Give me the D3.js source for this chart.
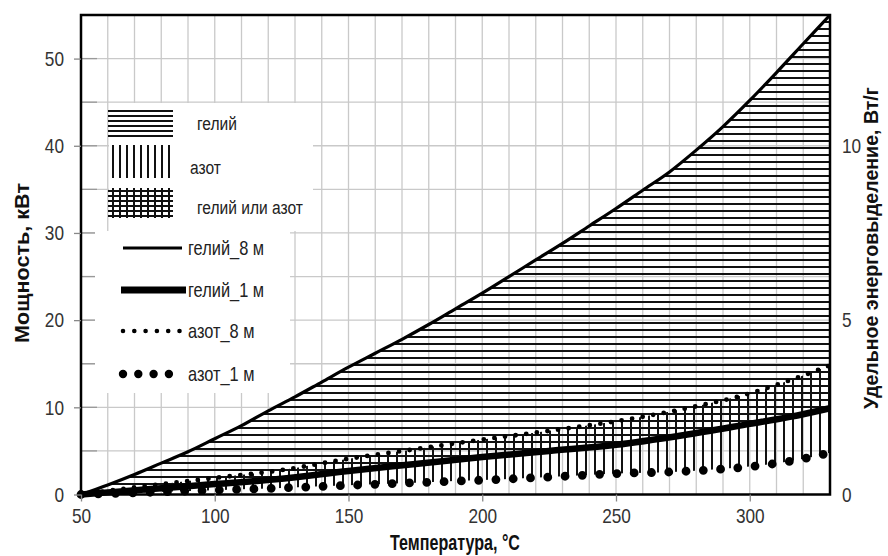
<!DOCTYPE html>
<html><head><meta charset="utf-8">
<script src="https://cdn.jsdelivr.net/npm/d3@7/dist/d3.min.js"></script>
<style>
html,body{margin:0;padding:0;background:#fff;}
svg{display:block;font-family:"Liberation Sans",Arial,sans-serif;}
</style></head>
<body><svg id="c" width="888" height="556"></svg>
<script>
// ---- data ----
const heliumT = [50,60,70,80,90,100,110,120,130,140,150,160,170,180,190,200,210,220,230,240,250,260,270,280,290,300,310,320,330];
const helium8m = [0,1.1,2.3,3.6,4.9,6.4,7.9,9.6,11.2,12.9,14.6,16.2,17.8,19.5,21.3,23.1,25.0,26.9,28.8,30.8,32.8,34.9,37.0,39.5,42.2,45.2,48.4,51.7,55.0];
const seriesT = [50,75,100,125,150,175,200,225,250,275,300,315,330];
const helium1m = [0,0.6,1.2,1.8,2.7,3.5,4.3,5.0,5.7,6.8,8.1,8.9,9.9];
const nitrogen8m = [0,1.0,1.9,2.8,4.1,5.2,6.3,7.3,8.4,9.8,11.6,13.1,14.8];
const nitrogen1m = [0,0.25,0.5,0.75,1.05,1.35,1.65,2.0,2.4,2.65,3.2,3.8,4.8];
const xTicks = [50,100,150,200,250,300];
const yTicks = [0,10,20,30,40,50];
const yRightTicks = [0,5,10];
const legendAreas = ["гелий","азот","гелий или азот"];
const legendLines = ["гелий_8 м","гелий_1 м","азот_8 м","азот_1 м"];
const xTitle = "Температура, °C";
const yTitle = "Мощность, кВт";
const yRightTitle = "Удельное энерговыделение, Вт/г";

const NARROW = 0.82;
const svg = d3.select("#c");
const L=81, R=830, T=15, B=494.5;
const x = d3.scaleLinear().domain([50,330]).range([L,R]);
const y = d3.scaleLinear().domain([0,55]).range([B,T]);
const yR = d3.scaleLinear().domain([0,13.75]).range([B,T]);

const defs = svg.append("defs");
function hatchH(id, h, w){
  const p = defs.append("pattern").attr("id",id).attr("patternUnits","userSpaceOnUse").attr("width",10).attr("height",h);
  p.append("rect").attr("x",0).attr("y",0).attr("width",10).attr("height",w).attr("fill","#111");
}
function hatchV(id, s, w){
  const p = defs.append("pattern").attr("id",id).attr("patternUnits","userSpaceOnUse").attr("width",s).attr("height",10);
  p.append("rect").attr("x",0).attr("y",0).attr("width",w).attr("height",10).attr("fill","#111");
}
hatchH("hH",7,2); hatchV("hV",9,2);
hatchH("lH",5,2); hatchV("lV",7,2);

// grid
const grid = svg.append("g").attr("stroke","#c9c9c9").attr("stroke-width",1.3);
grid.selectAll(".gv").data(d3.range(60,330,10)).join("line")
  .attr("x1",d=>x(d)).attr("x2",d=>x(d)).attr("y1",T).attr("y2",B);
grid.selectAll(".gh").data(d3.range(5,55,5)).join("line")
  .attr("y1",d=>y(d)).attr("y2",d=>y(d)).attr("x1",L).attr("x2",R);
svg.append("g").attr("stroke","#999").attr("stroke-width",1.3).selectAll("line").data(d3.range(5,55,5)).join("line")
  .attr("y1",d=>y(d)).attr("y2",d=>y(d)).attr("x1",L).attr("x2",L+16);

// legend backgrounds
svg.append("rect").attr("x",109).attr("y",103).attr("width",204).attr("height",128).attr("fill","#fff");
svg.append("rect").attr("x",95).attr("y",231).attr("width",195).attr("height",162).attr("fill","#fff");

// areas
const areaUnder = (T_, V) => d3.area().x((d,i)=>x(T_[i])).y0(y(0)).y1((d,i)=>y(V[i])).curve(d3.curveMonotoneX)(V);
const areaAbove = (T_, V) => d3.area().x((d,i)=>x(T_[i])).y0(y(55)).y1((d,i)=>y(V[i])).curve(d3.curveMonotoneX)(V);
defs.append("clipPath").attr("id","clipHe").append("path").attr("d",areaAbove(seriesT,helium1m));
defs.append("clipPath").attr("id","clipN").append("path").attr("d",areaAbove(seriesT,nitrogen1m));
svg.append("path").attr("d",areaUnder(heliumT,helium8m)).attr("fill","url(#hH)").attr("clip-path","url(#clipHe)");
svg.append("path").attr("d",areaUnder(seriesT,nitrogen8m)).attr("fill","url(#hV)").attr("clip-path","url(#clipN)");

// lines
const lineGen = T_ => d3.line().x((d,i)=>x(T_[i])).y(d=>y(d)).curve(d3.curveMonotoneX);
svg.append("path").attr("d",lineGen(heliumT)(helium8m)).attr("fill","none").attr("stroke","#000").attr("stroke-width",3.2);
svg.append("path").attr("d",lineGen(seriesT)(helium1m)).attr("fill","none").attr("stroke","#000").attr("stroke-width",6.5);
svg.append("path").attr("d",lineGen(seriesT)(nitrogen8m)).attr("fill","none").attr("stroke","#000").attr("stroke-width",4.8)
  .attr("stroke-linecap","round").attr("stroke-dasharray","0 10.7");
svg.append("path").attr("d",lineGen(seriesT)(nitrogen1m)).attr("fill","none").attr("stroke","#000").attr("stroke-width",8.8)
  .attr("stroke-linecap","round").attr("stroke-dasharray","0 17.3");

// frame
svg.append("rect").attr("x",L).attr("y",T).attr("width",R-L).attr("height",B-T).attr("fill","none").attr("stroke","#000").attr("stroke-width",2.5);

// axes
function narrowAxisText(g, size){
  g.selectAll("text").each(function(){
    const t = d3.select(this);
    const ox = +t.attr("x") || 0;
    t.attr("x", ox/NARROW).attr("transform",`scale(${NARROW},1)`)
     .attr("font-size",size).attr("fill","#333").attr("font-family",null);
  });
}
const ax = svg.append("g").attr("transform",`translate(0,${B})`)
  .call(d3.axisBottom(x).tickValues(xTicks).tickSize(7).tickPadding(7));
ax.select(".domain").remove();
ax.selectAll("line").attr("stroke","#888").attr("stroke-width",1.3);
narrowAxisText(ax,21);
const ay = svg.append("g").attr("transform",`translate(${L},0)`)
  .call(d3.axisLeft(y).tickValues(yTicks).tickSize(7).tickPadding(10));
ay.select(".domain").remove();
ay.selectAll("line").attr("stroke","#888").attr("stroke-width",1.3);
narrowAxisText(ay,21);
const ar = svg.append("g").attr("transform",`translate(${R},0)`)
  .call(d3.axisRight(yR).tickValues(yRightTicks).tickSize(0).tickPadding(12));
ar.select(".domain").remove();
narrowAxisText(ar,21);

// titles fitted to measured lengths
function title(txt, tx, ty, rot, target, size){
  const t = svg.append("text").attr("text-anchor","middle").attr("font-weight","bold")
    .attr("font-size",size).attr("fill","#111").text(txt);
  const len = t.node().getComputedTextLength();
  const s = target/len;
  t.attr("transform",`translate(${tx},${ty}) rotate(${rot}) scale(${s},1)`);
}
title(xTitle,455,550,0,130,22);
title(yTitle,29,263,-90,160,21);
title(yRightTitle,878,248,-90,322,21);

function ltext(txt, tx, ty, size){
  svg.append("text").attr("transform",`translate(${tx},${ty}) scale(${NARROW},1)`)
    .attr("dy","0.35em").attr("font-size",size).attr("fill","#222").text(txt);
}
// legend: areas
const lgA = [{fill:["url(#lH)"],y:107,h:30,tx:197,ty:123},{fill:["url(#lV)"],y:145,h:33,tx:190,ty:167},{fill:["url(#lH)","url(#lV)"],y:188,h:30,tx:197,ty:207}];
lgA.forEach((d,i)=>{
  d.fill.forEach(f=>svg.append("rect").attr("x",108).attr("y",d.y).attr("width",65).attr("height",d.h).attr("fill",f));
  ltext(legendAreas[i], d.tx, d.ty, 19);
});
// legend: lines
const lgL = [{y:248,x1:123,x2:182,w:3.2,dash:null},{y:290,x1:121,x2:186,w:7,dash:null},{y:331,x1:123,x2:180,w:4.6,dash:"0 11.3"},{y:374,x1:123,x2:170,w:8.4,dash:"0 15.3"}];
lgL.forEach((d,i)=>{
  const l = svg.append("line").attr("x1",d.x1).attr("x2",d.x2).attr("y1",d.y).attr("y2",d.y).attr("stroke","#000").attr("stroke-width",d.w);
  if(d.dash) l.attr("stroke-dasharray",d.dash).attr("stroke-linecap","round");
  ltext(legendLines[i], 188, d.y, 20);
});
</script></body></html>
